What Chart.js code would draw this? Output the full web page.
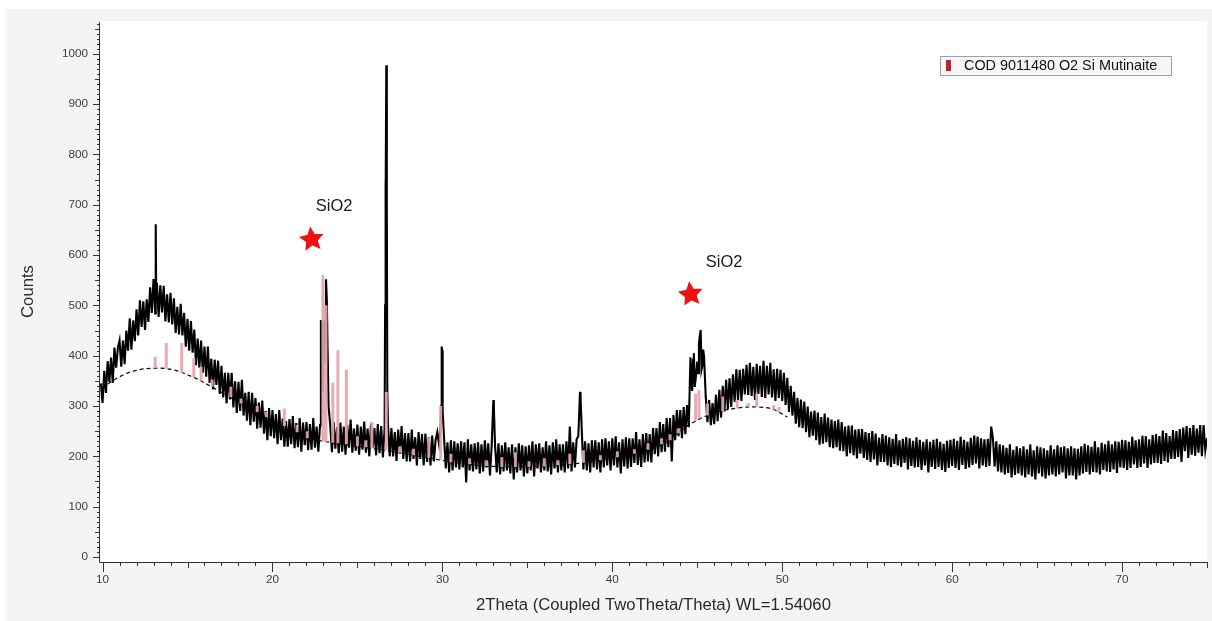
<!DOCTYPE html>
<html>
<head>
<meta charset="utf-8">
<title>XRD pattern</title>
<script src="https://cdn.jsdelivr.net/npm/chart.js@4.4.1/dist/chart.umd.min.js"></script>
<style>
  html, body { margin: 0; padding: 0; background: #fff; }
  #wrap { width: 1212px; height: 621px; }
</style>
</head>
<body>
<div id="wrap"><canvas id="xrd" width="1212" height="621"></canvas></div>
<script>
// Measured scan: counts every 0.1 deg 2theta, starting at 10.0
const scanStart = 10.0;
const scanStep = 0.1;
const scanCounts = [
  306, 370, 326, 389, 348, 396, 346, 416, 376, 415,   // 10
  430, 378, 430, 383, 450, 410, 474, 412, 470, 429,   // 11
  492, 440, 510, 457, 508, 451, 512, 467, 536, 485,   // 12
  552, 484, 545, 477, 540, 486, 539, 468, 522, 466,   // 13
  525, 462, 514, 445, 497, 442, 503, 440, 485, 418,   // 14
  473, 410, 469, 406, 452, 381, 434, 376, 430, 366,   // 15
  418, 358, 418, 346, 394, 333, 392, 342, 390, 324,   // 16
  380, 317, 366, 305, 366, 313, 366, 297, 349, 286,   // 17
  348, 290, 352, 281, 326, 271, 328, 262, 326, 269,   // 18
  316, 255, 307, 257, 311, 245, 290, 232, 296, 240,   // 19
  292, 236, 284, 224, 292, 232, 275, 219, 270, 219,   // 20
  274, 224, 280, 216, 266, 218, 276, 209, 267, 222,   // 21
  268, 212, 264, 213, 276, 217, 259, 209, 262, 420,   // 22
  440, 470, 510, 300, 262, 208, 268, 215, 258, 206,   // 23
  267, 209, 259, 203, 263, 217, 273, 207, 255, 211,   // 24
  263, 203, 259, 213, 269, 207, 255, 200, 265, 217,   // 25
  256, 202, 264, 206, 260, 198, 255, 977, 262, 200,   // 26
  256, 200, 248, 191, 253, 205, 260, 195, 246, 190,   // 27
  246, 190, 253, 195, 238, 182, 248, 195, 244, 182,   // 28
  245, 189, 238, 182, 241, 190, 232, 248, 225, 262,   // 29
  298, 236, 176, 228, 168, 232, 172, 230, 178, 226,   // 30
  174, 230, 178, 228, 148, 234, 172, 224, 170, 226,   // 31
  174, 228, 166, 224, 170, 232, 178, 226, 162, 220,   // 32
  312, 222, 168, 226, 164, 222, 170, 228, 172, 218,   // 33
  166, 224, 154, 218, 168, 226, 172, 222, 160, 220,   // 34
  166, 222, 172, 230, 160, 224, 176, 226, 168, 218,   // 35
  172, 230, 170, 222, 164, 228, 176, 234, 168, 224,   // 36
  172, 224, 168, 230, 176, 259, 170, 228, 178, 234,   // 37
  240, 328, 255, 174, 230, 172, 226, 168, 232, 178,   // 38
  232, 174, 228, 168, 234, 178, 236, 182, 230, 172,   // 39
  236, 182, 240, 178, 228, 166, 234, 180, 238, 176,   // 40
  236, 179, 236, 187, 248, 183, 234, 179, 244, 188,   // 41
  246, 190, 244, 188, 256, 204, 256, 200, 268, 208,   // 42
  264, 209, 276, 218, 276, 190, 282, 232, 292, 240,   // 43
  292, 236, 298, 244, 302, 258, 397, 330, 405, 352,   // 44
  388, 424, 451, 380, 398, 318, 268, 312, 262, 306,   // 45
  264, 322, 270, 332, 277, 340, 289, 352, 294, 355,   // 46
  298, 363, 308, 373, 312, 372, 310, 374, 323, 382,   // 47
  322, 386, 320, 378, 312, 384, 324, 380, 318, 390,   // 48
  316, 380, 323, 386, 317, 373, 310, 374, 316, 372,   // 49
  310, 366, 302, 356, 288, 340, 281, 328, 265, 316,   // 50
  258, 313, 256, 309, 248, 299, 238, 289, 241, 291,   // 51
  232, 287, 223, 278, 225, 285, 228, 277, 218, 273,   // 52
  216, 270, 218, 273, 211, 268, 210, 259, 200, 261,   // 53
  206, 261, 202, 253, 196, 254, 205, 254, 197, 248,   // 54
  193, 246, 189, 250, 194, 245, 182, 237, 189, 244,   // 55
  189, 241, 182, 238, 179, 235, 185, 244, 182, 232,   // 56
  179, 235, 187, 238, 174, 236, 181, 231, 178, 238,   // 57
  179, 233, 173, 229, 182, 234, 168, 229, 179, 233,   // 58
  175, 235, 179, 229, 173, 225, 169, 231, 177, 233,   // 59
  181, 235, 177, 231, 173, 239, 183, 233, 175, 229,   // 60
  178, 237, 183, 241, 186, 239, 176, 236, 182, 234,   // 61
  179, 235, 181, 259, 236, 180, 230, 170, 224, 168,   // 62
  222, 164, 217, 167, 224, 158, 213, 163, 220, 166,   // 63
  216, 162, 220, 158, 214, 164, 224, 160, 212, 154,   // 64
  220, 166, 218, 160, 216, 156, 212, 162, 222, 164,   // 65
  214, 160, 222, 164, 218, 168, 220, 156, 216, 162,   // 66
  220, 162, 216, 154, 215, 162, 220, 166, 225, 169,   // 67
  222, 164, 219, 169, 230, 168, 218, 164, 227, 173,   // 68
  224, 170, 231, 169, 224, 174, 230, 167, 229, 178,   // 69
  233, 177, 232, 173, 229, 177, 239, 184, 232, 177,   // 70
  234, 179, 241, 186, 240, 177, 234, 184, 242, 187,   // 71
  244, 187, 240, 185, 251, 191, 246, 188, 240, 195,   // 72
  252, 195, 250, 199, 254, 189, 257, 210, 260, 197,   // 73
  256, 203, 262, 201, 255, 207, 262, 200, 262, 212,   // 74
  236                                                 // 75
];

// extra points on the sharp reflections (finer than the 0.1 deg grid)
const peakTheta  = [9.9, 13.13, 13.16, 22.85, 22.93, 22.97, 23.05, 23.15, 23.24, 26.63, 26.65, 26.67, 26.72, 26.74, 26.76,
                    29.94, 29.96, 29.99, 30.03, 33.03, 38.13, 44.65, 44.75, 44.85, 45.05, 45.15, 45.25, 45.35, 62.27];
const peakCounts = [345, 661, 505, 471, 330, 468, 385, 552, 420, 500, 745, 705, 700, 690, 330,
                    300, 418, 410, 290, 296, 318, 352, 392, 338, 365, 440, 372, 412, 240];

// fitted amorphous background (dashed)
const bgTheta  = [10, 10.5, 11, 11.5, 12, 12.5, 13, 13.5, 14, 14.5, 15, 15.5, 16, 17, 18, 19, 20, 21, 22, 23, 24, 25, 26, 27, 28, 29, 30, 32, 34, 36, 38, 40, 41, 42, 43, 44, 44.5, 45, 45.5, 46, 47, 48, 49, 49.5, 50, 50.3];
const bgCounts = [335, 348, 358, 366, 371, 374, 375, 375, 373, 369, 362, 355, 346, 327, 308, 290, 268, 252, 238, 230, 225, 220, 215, 210, 204, 198, 192, 182, 179, 180, 186, 196, 203, 212, 225, 250, 262, 272, 280, 287, 294, 298, 297, 293, 284, 278];

// reference pattern sticks: COD 9011480 (SiO2, mutinaite)
const phaseName  = 'COD 9011480 O2 Si Mutinaite';
const stickTheta = [13.1, 13.75, 14.66, 15.37, 15.8, 16.45, 17.55, 18.15, 19.1, 19.65, 20.7, 21.45, 22.05, 22.97, 23.15, 23.55, 23.85, 24.35, 25.0, 25.5, 25.85, 26.7, 27.5, 28.3, 29.2, 29.9, 30.5, 31.6, 32.6, 33.5, 34.3, 35.1, 36.0, 36.8, 37.5, 38.3, 39.3, 40.3, 41.3, 42.1, 42.9, 43.4, 43.9, 44.9, 45.1, 45.6, 46.5, 47.35, 48.0, 48.5, 49.5, 49.8];
const stickBase  = [375, 374, 366, 357, 350, 338, 318, 305, 288, 278, 260, 248, 236, 230, 229, 227, 226, 224, 220, 218, 216, 212, 207, 202, 197, 193, 188, 184, 181, 179, 179, 179, 180, 182, 184, 187, 192, 198, 205, 213, 224, 232, 246, 271, 275, 281, 290, 295, 298, 298, 293, 288];
const stickTop   = [398, 425, 425, 395, 378, 352, 338, 315, 300, 288, 295, 262, 250, 560, 500, 346, 411, 372, 240, 232, 268, 328, 220, 215, 238, 300, 205, 196, 192, 198, 208, 190, 196, 192, 205, 212, 202, 210, 214, 226, 236, 244, 256, 325, 332, 305, 319, 312, 306, 325, 302, 298];

// SiO2 markers and their labels
const markTheta  = [22.31, 44.61];
const markCounts = [631, 522];
const labelTheta  = [22.55, 45.5];
const labelCounts = [697, 586];
const labelText   = ['SiO2', 'SiO2'];

const xTickValues = [10, 20, 30, 40, 50, 60, 70];
const yTickValues = [0, 100, 200, 300, 400, 500, 600, 700, 800, 900, 1000];

const FONT = '"Liberation Sans", Arial, sans-serif';

// build the plotted series
const trace = scanCounts.map((c, i) => ({ x: Math.round((scanStart + i * scanStep) * 100) / 100, y: c }));
peakTheta.forEach((t, i) => trace.push({ x: t, y: peakCounts[i] }));
trace.sort((a, b) => a.x - b.x);

const background = bgTheta.map((t, i) => ({ x: t, y: bgCounts[i] }));

const sticks = [];
stickTheta.forEach((t, i) => {
    sticks.push({ x: t, y: stickBase[i] }, { x: t, y: stickTop[i] }, { x: t, y: null });
});

function drawStar(ctx, cx, cy, rOut, rIn, rot) {
    ctx.beginPath();
    for (let k = 0; k < 10; k++) {
        const r = k % 2 === 0 ? rOut : rIn;
        const ang = -Math.PI / 2 + rot + k * Math.PI / 5;
        const px = cx + r * Math.cos(ang), py = cy + r * Math.sin(ang);
        if (k === 0) ctx.moveTo(px, py); else ctx.lineTo(px, py);
    }
    ctx.closePath();
    ctx.fill();
}

// panel background, axis frame with minor ticks, legend box and markers
const decor = {
    id: 'decor',
    beforeDraw(chart) {
        const { ctx, chartArea: a } = chart;
        ctx.save();
        ctx.fillStyle = '#f4f4f4';
        ctx.fillRect(6, 9, chart.width - 6, chart.height - 9);
        ctx.fillStyle = '#ffffff';
        ctx.fillRect(a.left, a.top, a.right - a.left, a.bottom - a.top);
        ctx.restore();
    },
    afterDraw(chart) {
        const { ctx, chartArea: a } = chart;
        const xs = chart.scales.x, ys = chart.scales.y;
        ctx.save();

        // axes and tick marks
        ctx.strokeStyle = '#333';
        ctx.lineWidth = 1;
        ctx.beginPath();
        ctx.moveTo(a.left - 0.5, a.top + 1);
        ctx.lineTo(a.left - 0.5, a.bottom + 0.5);
        ctx.lineTo(a.right, a.bottom + 0.5);
        for (let v = 10; v <= 75; v++) {
            const px = Math.round(xs.getPixelForValue(v)) + 0.5;
            const len = v % 10 === 0 ? 10 : (v % 5 === 0 ? 6 : 4);
            ctx.moveTo(px, a.bottom);
            ctx.lineTo(px, a.bottom + len);
        }
        for (let v = 0; v <= 1060; v += 10) {
            const py = Math.round(ys.getPixelForValue(v)) + 0.5;
            const len = v % 100 === 0 ? 7 : (v % 50 === 0 ? 5 : 3);
            ctx.moveTo(a.left, py);
            ctx.lineTo(a.left - len, py);
        }
        ctx.stroke();

        // legend
        const bx = a.right - 267, by = a.top + 35, bw = 231, bh = 19;
        ctx.fillStyle = '#f6f6f8';
        ctx.fillRect(bx, by, bw, bh);
        ctx.strokeStyle = '#9aa0aa';
        ctx.strokeRect(bx + 0.5, by + 0.5, bw, bh);
        ctx.fillStyle = '#c41e2a';
        ctx.fillRect(bx + 6, by + 4, 5, 11);
        ctx.fillStyle = '#111';
        ctx.font = '14.4px ' + FONT;
        ctx.textBaseline = 'middle';
        ctx.textAlign = 'left';
        ctx.fillText(chart.data.datasets[0].label, bx + 24, by + bh / 2 + 1);

        // SiO2 markers
        ctx.fillStyle = '#ee1111';
        markTheta.forEach((t, i) => {
            drawStar(ctx, xs.getPixelForValue(t), ys.getPixelForValue(markCounts[i]), 13, 6.2, -0.12);
        });
        ctx.fillStyle = '#1a1a1a';
        ctx.font = '16.5px ' + FONT;
        labelTheta.forEach((t, i) => {
            ctx.fillText(labelText[i], xs.getPixelForValue(t), ys.getPixelForValue(labelCounts[i]));
        });
        ctx.restore();
    }
};

new Chart(document.getElementById('xrd'), {
    type: 'line',
    data: {
        datasets: [
            {
                label: phaseName,
                data: sticks,
                borderColor: 'rgba(228, 166, 170, 0.92)',
                borderWidth: 3,
                borderCapStyle: 'butt',
                spanGaps: false,
                pointRadius: 0,
                order: 1
            },
            {
                label: 'Scan',
                data: trace,
                borderColor: '#000',
                borderWidth: 2.1,
                borderJoinStyle: 'miter',
                pointRadius: 0,
                tension: 0,
                order: 2
            },
            {
                label: 'Background',
                data: background,
                borderColor: '#111',
                borderWidth: 1.3,
                borderDash: [4, 3],
                pointRadius: 0,
                tension: 0.3,
                order: 3
            }
        ]
    },
    options: {
        responsive: false,
        animation: false,
        devicePixelRatio: 1,
        layout: { padding: { left: 6, top: 21, right: 5, bottom: 0 } },
        plugins: {
            legend: { display: false },
            tooltip: { enabled: false }
        },
        scales: {
            x: {
                type: 'linear',
                min: 9.85,
                max: 75,
                afterFit: s => { s.height = 59; },
                afterBuildTicks: s => { s.ticks = xTickValues.map(v => ({ value: v })); },
                grid: { display: false, drawTicks: false },
                border: { display: false },
                ticks: {
                    color: '#3c3c3c', font: { family: FONT, size: 11.7 }, padding: 11,
                    maxRotation: 0, autoSkip: false, callback: v => String(v)
                },
                title: {
                    display: true,
                    text: '2Theta (Coupled TwoTheta/Theta) WL=1.54060',
                    color: '#2a2a2a',
                    font: { family: FONT, size: 16.7 },
                    padding: { top: 0, bottom: 6 }
                }
            },
            y: {
                type: 'linear',
                min: -10,
                max: 1065,
                afterFit: s => { s.width = 94; },
                afterBuildTicks: s => { s.ticks = yTickValues.map(v => ({ value: v })); },
                grid: { display: false, drawTicks: false },
                border: { display: false },
                ticks: {
                    color: '#3c3c3c', font: { family: FONT, size: 11.7 }, padding: 12,
                    autoSkip: false, callback: v => String(v)
                },
                title: {
                    display: true,
                    text: 'Counts',
                    color: '#2a2a2a',
                    font: { family: FONT, size: 16.7 },
                    padding: { top: 12.5, bottom: 0 }
                }
            }
        }
    },
    plugins: [decor]
});
</script>
</body>
</html>
